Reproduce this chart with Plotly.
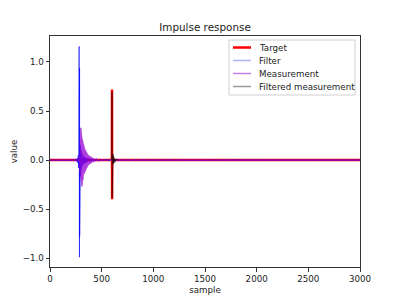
import plotly.graph_objects as go

# ---- data ----
target_x = [0, 599, 600, 601, 602, 3000]
target_y = [0, 0, 0.72, -0.40, 0, 0]

filter_x = [0, 100, 180, 200, 220, 240, 250, 260, 265, 270, 274, 277, 279, 280, 281, 282, 283, 284,
            285, 286, 287, 288, 289, 290, 291, 292, 293, 294, 295, 296, 297, 298, 300, 302, 304, 306,
            308, 310, 312, 315, 318, 321, 324, 328, 332, 336, 340, 345, 350, 355, 360, 370, 380, 390,
            400, 410, 420, 430, 440, 450, 470, 490, 510, 540, 570, 600, 620, 650, 680, 700, 730, 760,
            790, 820, 860, 900, 940, 980, 1020, 1060, 1100, 1150, 1200, 1260, 1320, 1400, 1500, 1750,
            2000, 2170, 2500, 3000]
filter_y = [0, 0, 0.003, -0.004, 0.006, -0.008, 0.012, -0.015, 0.02, -0.03, 0.05, -0.08, 0.35, -0.22,
            0.27, 1.16, -0.43, 0.30, -0.99, 0.94, -0.78, 0.28, -0.25, 0.22, -0.20, 0.18, -0.22, 0.15,
            -0.16, 0.14, -0.12, 0.12, -0.10, 0.10, -0.09, 0.08, -0.07, 0.07, -0.06, 0.05, -0.05, 0.045,
            -0.04, 0.035, -0.035, 0.03, -0.03, 0.025, -0.025, 0.02, -0.02, 0.018, -0.015, 0.015, -0.012,
            0.012, -0.01, 0.01, -0.009, 0.008, -0.008, 0.007, -0.006, 0.006, -0.005, 0.006, -0.005,
            0.006, -0.004, 0.005, -0.004, 0.004, -0.004, 0.003, -0.003, 0.003, -0.003, 0.003, -0.002,
            0.003, -0.002, 0.002, -0.002, 0.002, -0.002, 0.001, -0.001, 0.001, 0, 0.002, 0, 0]

meas_x = [0, 250, 270, 280, 284, 288, 290, 292, 294, 296, 298, 300, 302, 304, 306, 308, 310, 312, 314,
          316, 318, 320, 323, 326, 329, 332, 336, 340, 344, 348, 352, 356, 360, 365, 370, 376, 382, 388,
          395, 402, 410, 420, 430, 440, 450, 470, 500, 600, 3000]
meas_y = [0, 0, 0.002, -0.01, 0.05, -0.08, 0.15, -0.12, 0.22, -0.18, 0.33, -0.15, 0.28, -0.22, 0.25,
          -0.27, 0.22, -0.25, 0.20, -0.22, 0.18, -0.20, 0.16, -0.17, 0.14, -0.14, 0.12, -0.12, 0.10,
          -0.10, 0.085, -0.08, 0.07, -0.065, 0.055, -0.05, 0.045, -0.04, 0.035, -0.03, 0.025, -0.02,
          0.016, -0.012, 0.01, -0.006, 0.003, 0, 0]

filt_meas_x = [590, 598, 600, 601, 602, 603, 605, 607, 610, 613, 616, 620, 625, 630, 640, 655]
filt_meas_y = [0, 0.01, 0.70, -0.38, 0.10, -0.06, 0.12, -0.05, 0.06, -0.04, 0.04, -0.03, 0.02,
               -0.02, 0.01, 0]

x_ticks = [0, 500, 1000, 1500, 2000, 2500, 3000]
y_ticks = [-1.0, -0.5, 0.0, 0.5, 1.0]

series_names = ["Target", "Filter", "Measurement", "Filtered measurement"]
series_colors = ["red", "rgba(0,0,255,0.6)", "rgba(148,0,211,0.75)", "rgba(0,0,0,0.5)"]
legend_colors = ["red", "rgba(0,0,255,0.3)", "rgba(148,0,211,0.5)", "rgba(0,0,0,0.4)"]
series_widths = [2.5, 1, 1.3, 1]

FONT = "DejaVu Sans"
TXT = "#222"

# plot area in pixels
L, R, T, B = 50, 360, 36, 267


def px_x(p):
    return (p - L) / (R - L)


def px_y(p):
    return (B - p) / (B - T)


fig = go.Figure()
data = [(target_x, target_y), (filter_x, filter_y), (meas_x, meas_y), (filt_meas_x, filt_meas_y)]
for (xs, ys), name, col, w in zip(data, series_names, series_colors, series_widths):
    fig.add_trace(go.Scatter(x=xs, y=ys, mode="lines", name=name,
                             line=dict(color=col, width=w), showlegend=False))

axis_common = dict(showline=True, mirror=True, linecolor="#333", linewidth=1,
                   ticks="outside", ticklen=3.5, tickwidth=1, tickcolor="#333",
                   showgrid=False, zeroline=False, automargin=False,
                   tickfont=dict(family=FONT, size=8.7, color=TXT))

# custom legend box (matplotlib style)
shapes = [dict(type="rect", xref="paper", yref="paper",
               x0=px_x(229), x1=px_x(355), y0=px_y(95), y1=px_y(40),
               line=dict(color="#d0d0d0", width=1), fillcolor="rgba(255,255,255,0.8)", layer="above")]
annotations = []
rows = [47.5, 60.5, 73.5, 86.5]
for name, col, w, ry in zip(series_names, legend_colors, series_widths, rows):
    shapes.append(dict(type="line", xref="paper", yref="paper",
                       x0=px_x(233), x1=px_x(251), y0=px_y(ry), y1=px_y(ry),
                       line=dict(color=col, width=max(w, 1.5) if name != "Target" else 2.5),
                       layer="above"))
    annotations.append(dict(text=name, xref="paper", yref="paper", x=px_x(257), y=px_y(ry),
                            xanchor="left", yanchor="middle", showarrow=False,
                            font=dict(family=FONT, size=8.7, color=TXT)))

fig.update_layout(
    width=400, height=300,
    margin=dict(l=L, r=400 - R, t=T, b=300 - B, autoexpand=False),
    paper_bgcolor="white", plot_bgcolor="white",
    font=dict(family=FONT, size=8.7, color=TXT),
    title=dict(text="Impulse response", x=px_x(205), xanchor="center", xref="paper",
               y=1 - 27 / 300, yanchor="middle", font=dict(family=FONT, size=10.4, color=TXT)),
    xaxis=dict(range=[0, 3000], tickvals=x_ticks, **axis_common,
               title=dict(text="sample", standoff=3, font=dict(family=FONT, size=8.7, color=TXT))),
    yaxis=dict(range=[-1.09, 1.265], tickvals=y_ticks, tickformat=".1f", **axis_common,
               title=dict(text="value", standoff=3, font=dict(family=FONT, size=8.7, color=TXT))),
    shapes=shapes,
    annotations=annotations,
    showlegend=False,
)

fig.write_html("out.html")
